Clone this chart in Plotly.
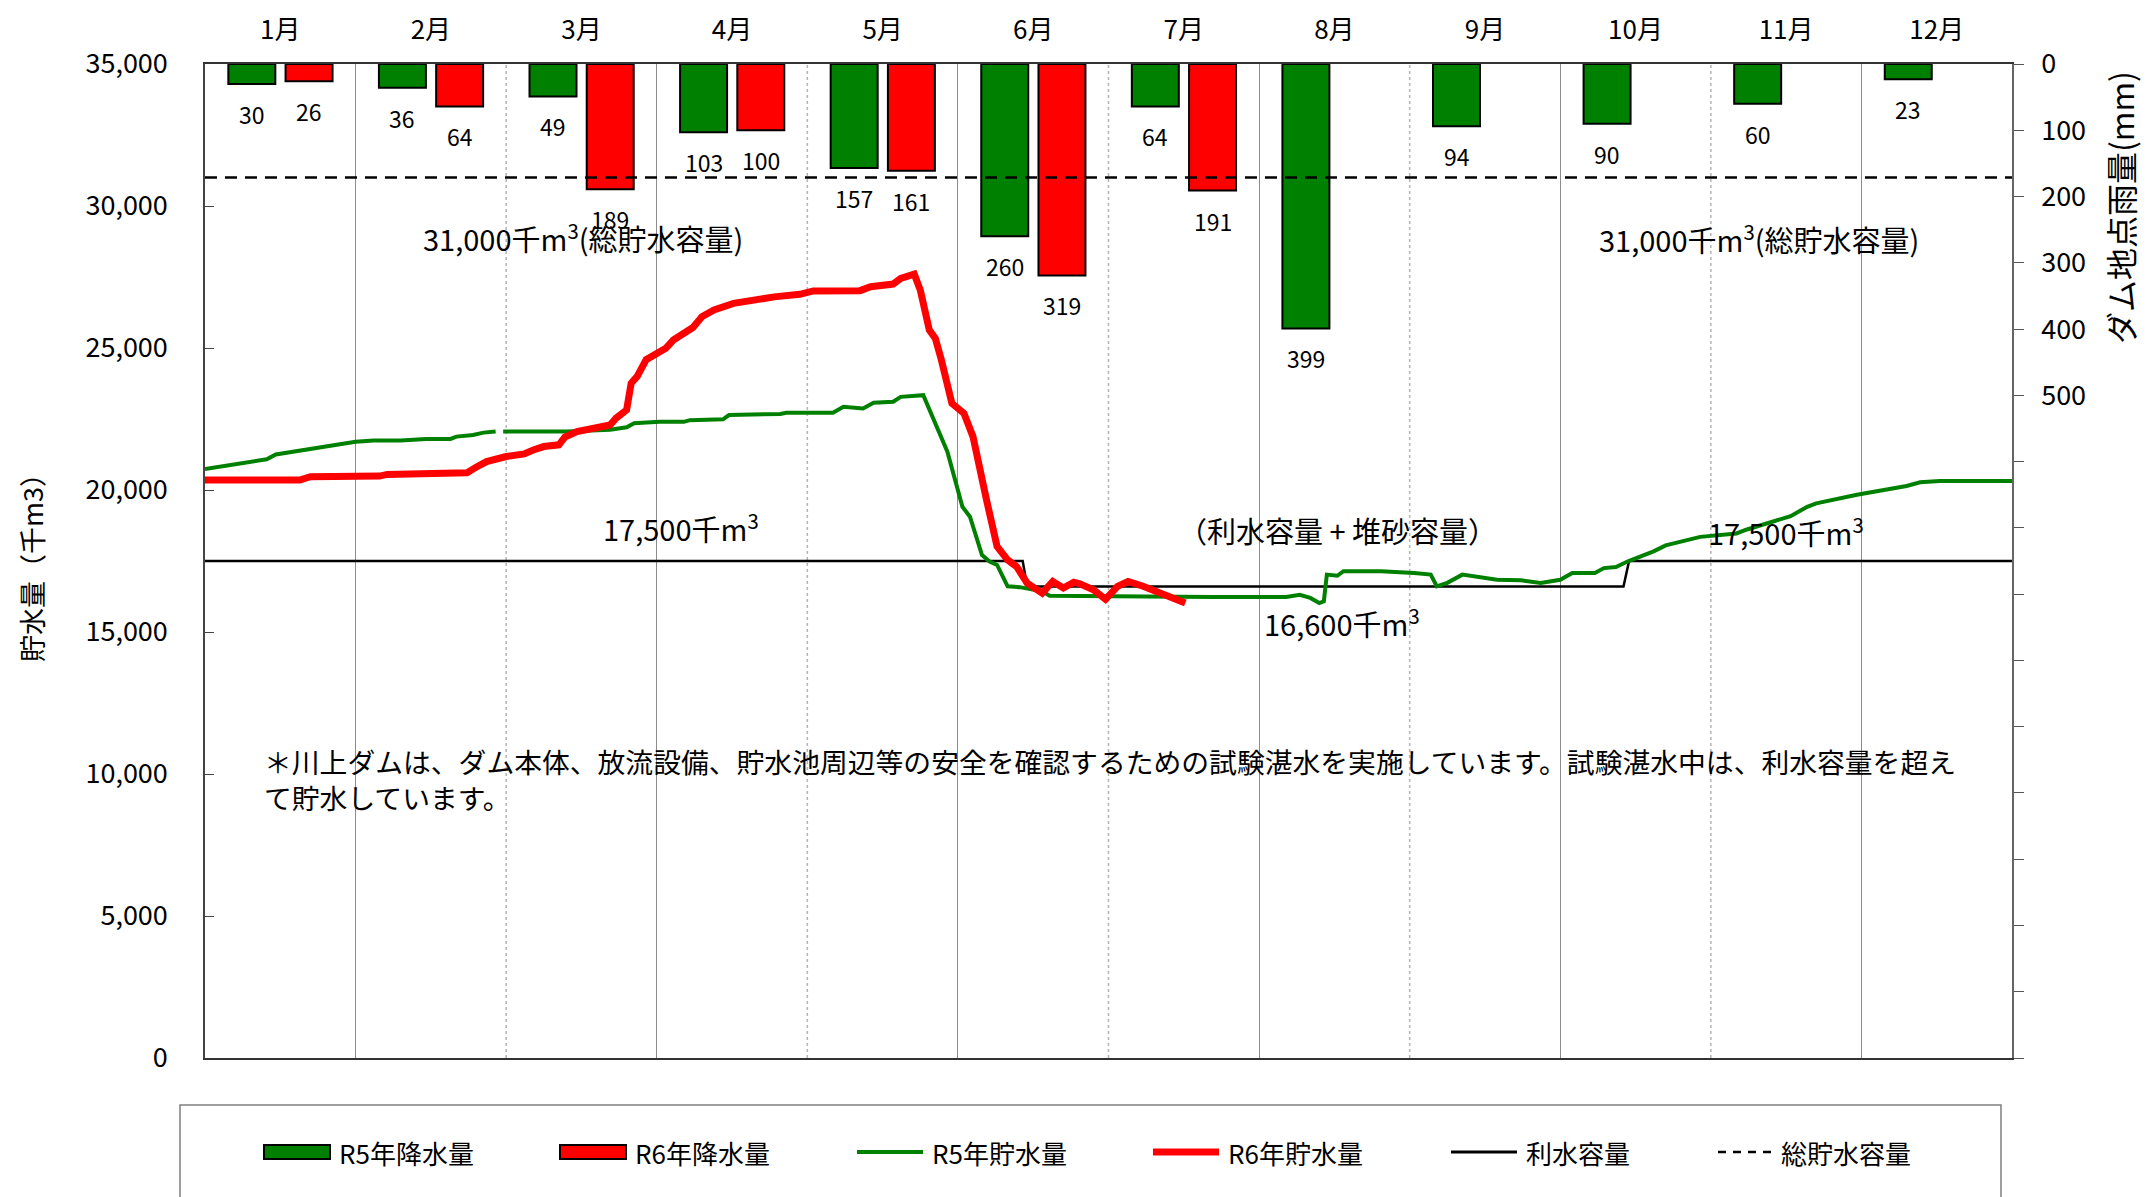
import plotly.graph_objects as go

FONT = "Noto Sans CJK JP"

months = ["1月", "2月", "3月", "4月", "5月", "6月", "7月", "8月", "9月", "10月", "11月", "12月"]
rain_r5 = [30, 36, 49, 103, 157, 260, 64, 399, 94, 90, 60, 23]
rain_r6 = [26, 64, 189, 100, 161, 319, 191, None, None, None, None, None]

# storage series: position in months elapsed since Jan 1, value in 千m3
r5_pos = [0.00, 0.19, 0.41, 0.47, 0.63, 0.85, 1.00, 1.12, 1.30, 1.47, 1.63, 1.67, 1.78, 1.85, 1.93, 1.955,
          1.98, 2.18, 2.40, 2.69, 2.80, 2.85, 3.02, 3.18, 3.22, 3.44, 3.48, 3.82, 3.86, 4.17, 4.24,
          4.37, 4.44, 4.57, 4.62, 4.77, 4.84, 4.93, 5.03, 5.08, 5.16, 5.21, 5.26, 5.33, 5.41, 5.56,
          5.61, 5.95, 6.25, 6.70, 7.18, 7.27, 7.34, 7.40, 7.43, 7.45, 7.52, 7.56, 7.81, 8.03, 8.14,
          8.18, 8.25, 8.35, 8.58, 8.74, 8.87, 9.00, 9.08, 9.23, 9.29, 9.37, 9.45, 9.62, 9.70, 9.93,
          10.17, 10.24, 10.53, 10.64, 10.70, 10.97, 11.30, 11.39, 11.52, 12.00]
r5_storage = [20740, 20900, 21080, 21250, 21390, 21565, 21700, 21740, 21740, 21800, 21800, 21880, 21940, 22020, 22060, None,
              22060, 22070, 22060, 22120, 22210, 22350, 22400, 22400, 22460, 22490, 22640, 22680, 22720, 22720, 22930,
              22870, 23070, 23110, 23280, 23340, 22460, 21350, 19410, 19060, 17710, 17480, 17360, 16610, 16580, 16430,
              16280, 16250, 16250, 16230, 16230, 16310, 16200, 16020, 16080, 17020, 16980, 17140, 17140, 17080, 17020,
              16610, 16730, 17020, 16840, 16820, 16730, 16840, 17080, 17080, 17250, 17290, 17490, 17840, 18050, 18350,
              18470, 18610, 19080, 19410, 19530, 19830, 20140, 20270, 20320, 20320]

r6_pos = [0.00, 0.63, 0.70, 0.96, 1.16, 1.21, 1.69, 1.74, 1.80, 1.87, 2.00, 2.12, 2.18, 2.25, 2.35, 2.39,
          2.47, 2.69, 2.73, 2.80, 2.83, 2.87, 2.93, 3.00, 3.06, 3.11, 3.18, 3.24, 3.30, 3.38, 3.51,
          3.66, 3.78, 3.95, 4.04, 4.35, 4.42, 4.57, 4.62, 4.71, 4.75, 4.81, 4.85, 4.89, 4.96, 5.04,
          5.10, 5.19, 5.26, 5.33, 5.39, 5.46, 5.56, 5.63, 5.70, 5.77, 5.81, 5.90, 5.98, 6.06, 6.13,
          6.23, 6.37, 6.51]
r6_storage = [20350, 20350, 20470, 20470, 20490, 20550, 20590, 20610, 20800, 21000, 21180, 21270, 21410, 21530, 21590, 21860,
              22060, 22290, 22530, 22820, 23760, 24000, 24590, 24810, 24990, 25280, 25520, 25720, 26100, 26340, 26570,
              26710, 26800, 26890, 27010, 27020, 27160, 27250, 27450, 27600, 27040, 25630, 25340, 24580, 23050, 22700,
              21880, 19650, 18010, 17540, 17300, 16720, 16370, 16780, 16550, 16750, 16700, 16490, 16150, 16610, 16780,
              16610, 16310, 16020]

cap_pos = [0, 5.43, 5.46, 9.42, 9.457, 12]
cap_value = [17500, 17500, 16600, 16600, 17500, 17500]
total_pos = [0, 12]
total_value = [31000, 31000]

rain_ticks = [0, 100, 200, 300, 400, 500]
storage_ticks = [0, 5000, 10000, 15000, 20000, 25000, 30000, 35000]

month_center = [i + 0.5 for i in range(12)]
BAR_W = 0.312
OFF_R5 = -0.345
OFF_R6 = 0.035

fig = go.Figure()

# rainfall bars (primary y: right side, reversed)
fig.add_trace(go.Bar(x=month_center, y=rain_r5, width=BAR_W, offset=OFF_R5, yaxis="y",
                     marker=dict(color="#008000", line=dict(color="black", width=2)),
                     name="R5年降水量", showlegend=False))
fig.add_trace(go.Bar(x=month_center, y=rain_r6, width=BAR_W, offset=OFF_R6, yaxis="y",
                     marker=dict(color="#FF0000", line=dict(color="black", width=2)),
                     name="R6年降水量", showlegend=False))

# storage lines (y2 on left, drawn on top)
fig.add_trace(go.Scatter(x=cap_pos, y=cap_value, yaxis="y2", mode="lines",
                         line=dict(color="black", width=2.5), name="利水容量", showlegend=False))
fig.add_trace(go.Scatter(x=total_pos, y=total_value, yaxis="y2", mode="lines",
                         line=dict(color="black", width=2.5, dash="12px,8px"), name="総貯水容量", showlegend=False))
fig.add_trace(go.Scatter(x=r5_pos, y=r5_storage, yaxis="y2", mode="lines", connectgaps=False,
                         line=dict(color="#008000", width=4), name="R5年貯水量", showlegend=False))
fig.add_trace(go.Scatter(x=r6_pos, y=r6_storage, yaxis="y2", mode="lines",
                         line=dict(color="#FF0000", width=7), name="R6年貯水量", showlegend=False))

annotations = []
# bar value labels
for vals, off in ((rain_r5, OFF_R5), (rain_r6, OFF_R6)):
    for xc, v in zip(month_center, vals):
        if v is None:
            continue
        annotations.append(dict(x=xc + off + BAR_W / 2, y=v, xref="x", yref="y", yshift=-30,
                                xanchor="center", yanchor="middle",
                                text=str(v), showarrow=False, font=dict(size=23, color="black", family=FONT)))

TXT = dict(size=29, color="black", family=FONT)
for txt, xv, yv in [("31,000千m<sup>3</sup>(総貯水容量)", 2.51, 28900),
                    ("31,000千m<sup>3</sup>(総貯水容量)", 10.32, 28870),
                    ("17,500千m<sup>3</sup>", 3.16, 18700),
                    ("17,500千m<sup>3</sup>", 10.50, 18560),
                    ("（利水容量 + 堆砂容量）", 7.52, 18590),
                    ("16,600千m<sup>3</sup>", 7.55, 15350)]:
    annotations.append(dict(x=xv, y=yv, xref="x", yref="y2", text=txt, showarrow=False,
                            xanchor="center", yanchor="middle", font=TXT))


def px(X):
    return (X - 205) / 1807


def py(Y):
    return (1058 - Y) / 994


annotations.append(dict(x=px(262), y=py(779), xref="paper", yref="paper", xanchor="left", yanchor="middle",
                        align="left", showarrow=False, font=dict(size=27.8, color="black", family=FONT),
                        text="＊川上ダムは、ダム本体、放流設備、貯水池周辺等の安全を確認するための試験湛水を実施しています。試験湛水中は、利水容量を超え<br>て貯水しています。"))

# axis titles
annotations.append(dict(x=px(31), y=py(561), xref="paper", yref="paper", text="貯水量（千m3）",
                        xanchor="center", yanchor="middle",
                        textangle=-90, showarrow=False, font=dict(size=27, color="black", family=FONT)))
annotations.append(dict(x=px(2120), y=py(208), xref="paper", yref="paper", text="ダム地点雨量(mm)",
                        xanchor="center", yanchor="middle",
                        textangle=-90, showarrow=False, font=dict(size=32, color="black", family=FONT)))

shapes = []
# lighter dotted month boundaries (every other month)
for k in (2, 4, 6, 8, 10):
    shapes.append(dict(type="line", xref="x", yref="paper", x0=k, x1=k, y0=0, y1=1, layer="below",
                       line=dict(color="#b4b4b4", width=1.5, dash="dot")))

# manual legend
shapes.append(dict(type="rect", xref="paper", yref="paper", x0=px(180), x1=px(2001), y0=py(1215), y1=py(1105),
                   line=dict(color="#7f7f7f", width=1.5), fillcolor="rgba(0,0,0,0)"))
legend_items = [("R5年降水量", "bar", "#008000", 264),
                ("R6年降水量", "bar", "#FF0000", 560),
                ("R5年貯水量", "line", "#008000", 857),
                ("R6年貯水量", "thick", "#FF0000", 1153),
                ("利水容量", "black", "black", 1451),
                ("総貯水容量", "dash", "black", 1718)]
LY = 1152
for label, kind, col, X in legend_items:
    if kind == "bar":
        shapes.append(dict(type="rect", xref="paper", yref="paper", x0=px(X), x1=px(X + 66),
                           y0=py(LY + 7), y1=py(LY - 7), fillcolor=col, line=dict(color="black", width=2)))
        tx = X + 73
    elif kind == "dash":
        shapes.append(dict(type="line", xref="paper", yref="paper", x0=px(X), x1=px(X + 56), y0=py(LY), y1=py(LY),
                           line=dict(color="black", width=2.5, dash="8px,7px")))
        tx = X + 61
    else:
        w = {"line": 4, "thick": 7, "black": 3}[kind]
        shapes.append(dict(type="line", xref="paper", yref="paper", x0=px(X), x1=px(X + 66), y0=py(LY), y1=py(LY),
                           line=dict(color=col, width=w)))
        tx = X + 73
    annotations.append(dict(x=px(tx), y=py(LY), xref="paper", yref="paper", xanchor="left", yanchor="middle",
                            text=label, showarrow=False, font=dict(size=26, color="black", family=FONT)))

# the page adds an 8px body margin, so the figure is 8px smaller than the window
fig.update_layout(
    width=2148, height=1189,
    margin=dict(l=197, r=144, t=56, b=139, autoexpand=False),
    paper_bgcolor="white", plot_bgcolor="white",
    font=dict(family=FONT, color="black"),
    barmode="overlay",
    showlegend=False,
    xaxis=dict(range=[0, 12], side="top", tickvals=month_center, ticktext=months, ticks="",
               showgrid=False, zeroline=False, showline=True, mirror=True, linecolor="#333", linewidth=1.5,
               automargin=False,
               tickfont=dict(size=26, color="black", family=FONT), ticklabelstandoff=13,
               minor=dict(tick0=1, dtick=2, showgrid=True, gridcolor="#8c8c8c", gridwidth=1.2, ticks="")),
    yaxis=dict(range=[1500, 0], side="right", tickvals=rain_ticks, ticks="outside",
               ticklen=10, tickcolor="#555", showgrid=False, zeroline=False, showline=True,
               linecolor="#666", linewidth=1.5, tickfont=dict(size=27, color="black", family=FONT),
               ticklabelstandoff=12, automargin=False,
               minor=dict(tick0=0, dtick=100, ticks="outside", ticklen=10, tickcolor="#555", showgrid=False)),
    yaxis2=dict(range=[0, 35000], side="left", overlaying="y", tickvals=storage_ticks, tickformat=",",
                ticks="inside", automargin=False,
                ticklen=9, tickcolor="#444", showgrid=False, zeroline=False, showline=True, linecolor="#444",
                linewidth=1.5, tickfont=dict(size=27, color="black", family=FONT), ticklabelstandoff=30),
    annotations=annotations,
    shapes=shapes,
)

fig.write_html("out.html")
